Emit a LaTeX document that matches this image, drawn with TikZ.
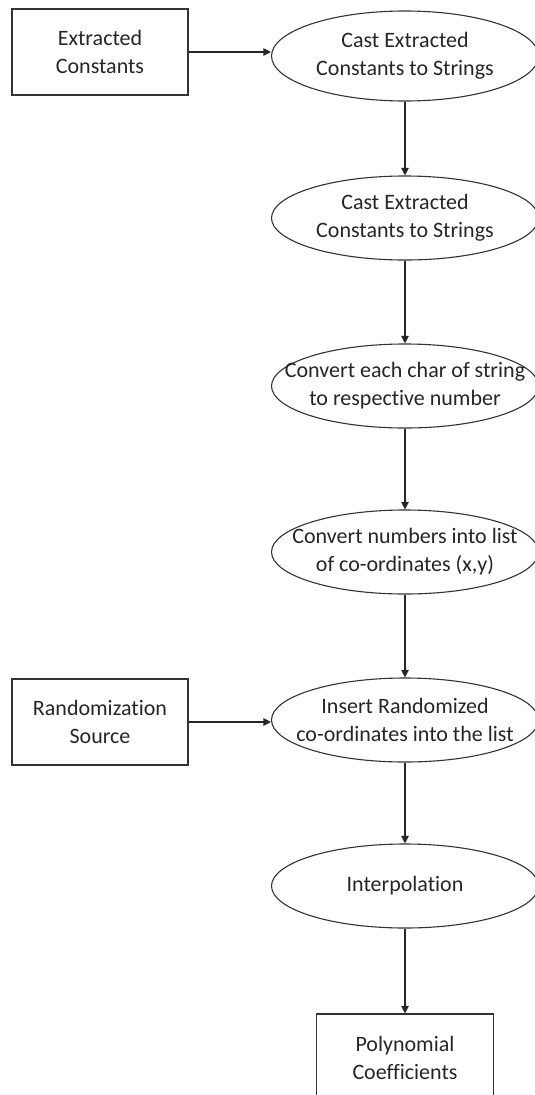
\documentclass[tikz,border=0pt]{standalone}
\usepackage{fontspec}
\setmainfont{Carlito}[Ligatures=NoCommon]
\usetikzlibrary{shapes.geometric,arrows.meta}
\begin{document}
\begin{tikzpicture}[x=1pt,y=-1pt,
  every node/.style={font=\fontsize{22}{28}\selectfont, text=black!85},
  boxnode/.style={draw=black!80, line width=1.1pt, minimum width=176pt, minimum height=86pt, align=center, inner sep=0pt},
  ellnode/.style={draw=black!80, ellipse, line width=1.1pt, minimum width=267pt, minimum height=84pt, inner sep=0pt},
  txt/.style={align=center, inner sep=0pt},
  arr/.style={-{Triangle[length=7.5pt,width=7.5pt]}, line width=1.1pt, draw=black!85}]
\useasboundingbox (0,0) rectangle (535,1095);
\clip (0,0) rectangle (535,1095);
\fill[white] (0,0) rectangle (535,1095);

\node[boxnode] (b1) at (100,52) {Extracted\\Constants};
\node[ellnode, minimum height=90pt] (e1) at (405,56) {};
\node[txt] (t1) at (e1) {Cast Extracted\\Constants to Strings};

\node[ellnode] (e2) at (405,218) {};
\node[txt] (t2) at (e2) {Cast Extracted\\Constants to Strings};

\node[ellnode] (e3) at (405,386) {};
\node[txt] (t3) at (e3) {Convert each char of string\\to respective number};

\node[ellnode] (e4) at (405,552) {};
\node[txt] (t4) at (e4) {Convert numbers into list\\of co-ordinates (x,y)};

\node[boxnode] (b2) at (100,722) {Randomization\\Source};
\node[ellnode] (e5) at (405,720) {};
\node[txt] (t5) at (e5) {Insert Randomized\\co-ordinates into the list};

\node[ellnode] (e6) at (405,886) {};
\node[txt] (t6) at (e6) {Interpolation};

\node[boxnode, minimum width=177pt, minimum height=88pt] (b3) at (405,1058) {Polynomial\\Coefficients};

\draw[arr] (b1.east) -- (b1.east -| e1.west);
\draw[arr] (e1.south) -- (e2.north);
\draw[arr] (e2.south) -- (e3.north);
\draw[arr] (e3.south) -- (e4.north);
\draw[arr] (e4.south) -- (e5.north);
\draw[arr] (b2.east) -- (b2.east -| e5.west);
\draw[arr] (e5.south) -- (e6.north);
\draw[arr] (e6.south) -- (b3.north);
\end{tikzpicture}
\end{document}
